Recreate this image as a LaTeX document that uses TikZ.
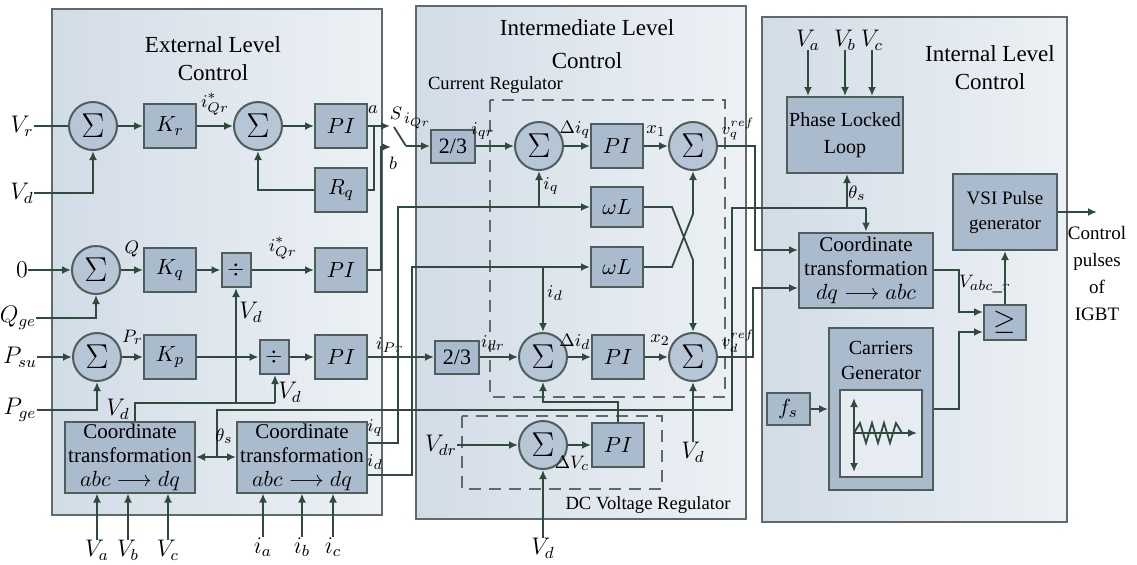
\documentclass[tikz,border=0pt]{standalone}
\usepackage{fontspec}
\setmainfont{Liberation Serif}
\usepackage{tikz}
\usetikzlibrary{arrows.meta}

\definecolor{lvlleft}{HTML}{D2DCE7}
\definecolor{lvlright}{HTML}{EDF1F5}
\definecolor{lvlline}{HTML}{5E6B68}
\definecolor{blkfill}{HTML}{A9BBCD}
\definecolor{sumfill}{HTML}{B6C6D6}
\definecolor{blkline}{HTML}{4E5E5A}
\definecolor{wire}{HTML}{2F4B3E}

\begin{document}
\begin{tikzpicture}[
  x=0.5pt, y=-0.5pt,
  >={Latex[length=4.5pt,width=4pt]},
  every node/.style={font=\fontsize{10}{12}\selectfont},
  lvl/.style={draw=lvlline, line width=1.1pt, left color=lvlleft, right color=lvlright},
  lvltitle/.style={align=center, font=\fontsize{11.5}{14}\selectfont},
  regtitle/.style={font=\fontsize{9.3}{11}\selectfont},
  blk/.style={draw=blkline, line width=1pt, fill=blkfill, minimum width=26pt, minimum height=22pt, inner sep=1pt, font=\fontsize{11}{12}\selectfont},
  sumc/.style={circle, draw=blkline, line width=1pt, fill=sumfill, minimum size=24pt, inner sep=0pt, font=\fontsize{16}{16}\selectfont},
  divbox/.style={blk, minimum width=14.5pt, minimum height=17pt},
  ttbox/.style={blk, minimum width=22pt, minimum height=16.5pt},
  ctbox/.style={blk, minimum width=65pt, minimum height=35.5pt, inner sep=0.5pt, align=center, font=\fontsize{10.5}{12}\selectfont},
  lbl/.style={inner sep=0pt, font=\fontsize{12}{13}\selectfont},
  sml/.style={inner sep=0pt, font=\fontsize{9.5}{11}\selectfont},
  tiny/.style={inner sep=0pt, font=\fontsize{8}{9}\selectfont},
  sig/.style={draw=wire, line width=0.9pt},
  sigar/.style={sig, ->},
  dashbox/.style={draw=lvlline, line width=1.1pt, dash pattern=on 6pt off 4pt}
]
\fill[white] (0,0) rectangle (1137,564);
\useasboundingbox (0,0) rectangle (1137,564);

% level frames
\draw[lvl] (52,9) rectangle (382,515);
\draw[lvl] (416,6) rectangle (746,519);
\draw[lvl] (762,17) rectangle (1067,522);
\draw[dashbox] (490,100) rectangle (725,397);
\draw[dashbox] (462,416) rectangle (662,489);

\node[lvltitle] (extT) at (213,59) {External Level\\Control};
\node[lvltitle, font=\fontsize{11.5}{16.5}\selectfont] (midT) at (587,44) {Intermediate Level\\Control};
\node[lvltitle] (intT) at (990,68) {Internal Level\\Control};
\node[regtitle, anchor=west] (curT) at (421,85) {Current Regulator};
\node[regtitle] (dcT) at (648,505) {DC Voltage Regulator};

% external level
\node[lbl] (Vr) at (22,126) {$V_r$};
\node[lbl] (Vd1) at (22,193) {$V_d$};
\node[sumc] (sumV) at (93,126) {$\Sigma$};
\node[blk] (Kr) at (170,126) {$K_r$};
\node[sumc] (sumI) at (258,126) {$\Sigma$};
\node[blk] (PIa) at (341,126) {$PI$};
\node[blk] (Rq) at (341,190) {$R_q$};

\node[lbl] (zero) at (22,270) {$0$};
\node[lbl] (Qge) at (18,318) {$Q_{ge}$};
\node[sumc] (sumQ) at (96,270) {$\Sigma$};
\node[blk] (Kq) at (170,270) {$K_q$};
\node[divbox] (divQ) at (236,270) {$\div$};
\node[blk] (PIb) at (341,270) {$PI$};

\node[lbl] (Psu) at (20,357) {$P_{su}$};
\node[lbl] (Pge) at (20,410) {$P_{ge}$};
\node[sumc] (sumP) at (97,357) {$\Sigma$};
\node[blk] (Kp) at (170,357) {$K_p$};
\node[divbox] (divP) at (274,357) {$\div$};
\node[blk] (PIc) at (341,357) {$PI$};

\node[ctbox] (ctA) at (130,457) {Coordinate\\transformation\\$abc\longrightarrow dq$};
\node[ctbox] (ctB) at (302,457) {Coordinate\\transformation\\$abc\longrightarrow dq$};
\node[lbl] (Va) at (97,550) {$V_a$};
\node[lbl] (Vb) at (128,550) {$V_b$};
\node[lbl] (Vc) at (168,550) {$V_c$};
\node[lbl] (ia) at (263,547) {$i_a$};
\node[lbl] (ib) at (302,547) {$i_b$};
\node[lbl] (ic) at (333,547) {$i_c$};

\draw[sig] (Vr) -- (sumV);
\draw[sigar] (Vd1) -| (sumV);
\draw[sigar] (sumV) -- (Kr);
\draw[sigar] (Kr) -- node[sml, above=5pt] {$i^*_{Qr}$} (sumI);
\draw[sigar] (sumI) -- (PIa);
\coordinate (aOut) at (390,126);
\draw[sigar] (PIa) -- (aOut);
\node[sml] (aLbl) at (373,110) {$a$};
\coordinate (fbA) at (374,126);
\draw[sig] (fbA) |- (Rq);
\draw[sigar] (Rq) -| (sumI);

\draw[sigar] (zero) -- (sumQ);
\draw[sigar] (Qge) -| (sumQ);
\draw[sigar] (sumQ) -- node[sml, above=6pt] {$Q$} (Kq);
\draw[sigar] (Kq) -- (divQ);
\draw[sigar] (divQ) -- node[sml, above=5pt] {$i^*_{Qr}$} (PIb);
\coordinate (bOut) at (391,147);
\draw[sigar] (PIb.east) -- ++(13,0) |- (bOut);
\node[sml] (bLbl) at (393,163) {$b$};

\draw[sigar] (Psu) -- (sumP);
\draw[sigar] (Pge) -| (sumP);
\draw[sigar] (sumP) -- node[sml, above=6pt] {$P_r$} (Kp);
\draw[sigar] (Kp) -- (divP);
\draw[sigar] (divP) -- (PIc);

\foreach \n in {Va,Vb,Vc} \draw[sigar] (\n.north) -- (\n.north |- ctA.south);
\foreach \n in {ia,ib,ic} \draw[sigar] (\n.north) -- (\n.north |- ctB.south);

% V_d to the dividers
\coordinate (vdA) at (135,403);
\coordinate (vdB) at (275,403);
\draw[sig] (ctA.north -| vdA) -- (vdA) -- (vdB);
\draw[sigar] (vdB) -- (vdB |- divP.south);
\draw[sigar] (divQ.south |- vdA) -- (divQ.south);
\node[lbl] (VdA) at (118,409) {$V_d$};
\node[lbl] (VdQ) at (251,312) {$V_d$};
\node[lbl] (VdP) at (290,392) {$V_d$};

% theta_s
\draw[sig, <->] (ctA) -- (ctB);
\coordinate (thJ) at (217,457);
\coordinate (thK) at (732,410);
\coordinate (thL) at (866,208);
\coordinate (thP) at (847,208);
\draw[sig] (thJ) |- (thK) |- (thL);
\node[sml] (thS1) at (224,436) {$\theta_s$};

% switch S
\coordinate (swA) at (394,127);
\coordinate (swB) at (406,146);
\draw[sig] (swA) -- (swB);
\node[sml] (sLbl) at (396,113) {$S$};
\node[tiny] (iQr) at (417,121) {$i_{Qr}$};

% intermediate level
\node[ttbox] (tt1) at (453,146) {2/3};
\node[sumc] (sI1) at (539,146) {$\Sigma$};
\node[blk] (PId) at (617,146) {$PI$};
\node[sumc] (sI2) at (693,146) {$\Sigma$};
\node[blk, minimum height=20pt] (wL1) at (617,207) {$\omega L$};
\node[blk, minimum height=20pt] (wL2) at (617,267) {$\omega L$};
\node[ttbox] (tt2) at (457,357) {2/3};
\node[sumc] (sI3) at (543,357) {$\Sigma$};
\node[blk] (PIe) at (618,357) {$PI$};
\node[sumc] (sI4) at (693,357) {$\Sigma$};
\node[sumc] (sDC) at (543,445) {$\Sigma$};
\node[blk] (PIf) at (618,445) {$PI$};
\node[lbl] (Vdr) at (441,445) {$V_{dr}$};
\node[lbl] (VdDC) at (543,548) {$V_d$};
\node[lbl] (Vd4) at (693,452) {$V_d$};

\draw[sigar] (swB) -- (tt1);
\draw[sigar] (PIc) -- (tt2);
\node[sml] (iPr) at (390,345) {$i_{Pr}$};
\draw[sigar] (tt1) -- (sI1);
\draw[sigar] (sI1) -- (PId);
\draw[sigar] (PId) -- (sI2);
\draw[sigar] (tt2) -- (sI3);
\draw[sigar] (sI3) -- (PIe);
\draw[sigar] (PIe) -- (sI4);
\node[sml] (iqrL) at (483,131) {$i_{qr}$};
\node[sml] (diq) at (575,130) {$\Delta i_q$};
\node[sml] (x1) at (656,131) {$x_1$};
\node[sml] (idrL) at (493,343) {$i_{dr}$};
\node[sml] (did) at (575,342) {$\Delta i_d$};
\node[sml] (x2) at (660,340) {$x_2$};
\node[tiny] (vqr) at (738,129) {$v_q^{ref}$};
\node[tiny] (vdr) at (738,341) {$v_d^{ref}$};

% i_q and i_d from the current transformation
\coordinate (iqA) at (398,443);
\coordinate (idA) at (412,475);
\draw[sigar] (ctB.east |- iqA) -- (iqA) |- (wL1);
\draw[sigar] (ctB.east |- idA) -- (idA) |- (wL2);
\draw[sigar] (sI1.south |- wL1) -- (sI1.south);
\draw[sigar] (sI3.north |- wL2) -- (sI3.north);
\node[sml] (iqB) at (375,428) {$i_q$};
\node[sml] (idB) at (375,462) {$i_d$};
\node[sml] (iqC) at (551,186) {$i_q$};
\node[sml] (idC) at (555,293) {$i_d$};

% crossed omega L paths
\coordinate (xA) at (672,207);
\coordinate (xB) at (693,260);
\coordinate (xC) at (672,267);
\coordinate (xD) at (693,214);
\draw[sigar] (wL1) -- (xA) -- (xB) -- (sI4);
\draw[sigar] (wL2) -- (xC) -- (xD) -- (sI2);
\draw[sigar] (Vd4) -- (sI4);

% DC voltage regulator
\draw[sigar] (Vdr) -- (sDC);
\draw[sigar] (sDC) -- (PIf);
\draw[sigar] (VdDC) -- (sDC);
\coordinate (dcA) at (618,402);
\draw[sigar] (PIf.north) -- (dcA) -| (sI3.south);
\node[sml] (dVc) at (572,463) {$\Delta V_c$};

% internal level
\node[lbl] (Va2) at (808,40) {$V_a$};
\node[lbl] (Vb2) at (845,40) {$V_b$};
\node[lbl] (Vc2) at (872,40) {$V_c$};
\node[blk, minimum width=58pt, minimum height=38pt, align=center, font=\fontsize{10}{13.5}\selectfont] (pll) at (845,135) {Phase Locked\\Loop};
\node[ctbox, minimum width=67pt, minimum height=37.5pt] (ctC) at (866,270) {Coordinate\\transformation\\$dq\longrightarrow abc$};
\node[blk, minimum width=52pt, minimum height=38pt, align=center, font=\fontsize{9.5}{12.5}\selectfont] (vsi) at (1005,212) {VSI Pulse\\generator};
\node[blk, minimum width=21pt, minimum height=17.5pt, font=\fontsize{14}{14}\selectfont] (ge) at (1005,322) {$\geq$};
\node[blk, minimum width=52pt, minimum height=81pt] (carr) at (881,409) {};
\node[align=center, font=\fontsize{10}{12.5}\selectfont] (carrT) at (881,360) {Carriers\\Generator};
\node[draw=blkline, line width=1pt, fill=lvlright!90!blkfill, minimum width=41pt, minimum height=43.5pt] (carrIn) at (881,433) {};
\node[blk, minimum width=21.5pt, minimum height=16pt] (fs) at (788,409) {$f_s$};
\node[align=center, font=\fontsize{9.5}{13.5}\selectfont] (ctrlT) at (1097,273) {Control\\pulses\\of\\IGBT};

\foreach \n in {Va2,Vb2,Vc2} \draw[sigar] (\n.south) -- (\n.south |- pll.north);
\draw[sigar] (thL) -- (ctC);
\draw[sigar] (thP) -- (thP |- pll.south);
\node[sml] (thS2) at (857,193) {$\theta_s$};

\coordinate (vqA) at (755,146);
\coordinate (vdrA) at (753,357);
\draw[sigar] (sI2) -- (vqA) |- ([yshift=10pt]ctC.west);
\draw[sigar] (sI4) -- (vdrA) |- ([yshift=-9pt]ctC.west);

\coordinate (geA) at (959,270);
\coordinate (geB) at (959,409);
\draw[sigar] (ctC) -- (geA) |- ([yshift=5pt]ge.west);
\draw[sigar] (carr) -- (geB) |- ([yshift=-5pt]ge.west);
\node[sml] (Vabc) at (985,284) {$V_{abc\_r}$};
\draw[sigar] (ge) -- (vsi);
\coordinate (outP) at (1097,212);
\draw[sigar] (vsi) -- (outP);
\draw[sigar] (fs) -- (carr);

% carrier wave inside the generator
\draw[sig, <->] (854,398) -- (854,472);
\draw[sigar] (854,433) -- (917,433);
\draw[sig] (854,433) -- (860,423) -- (866,443) -- (872,423) -- (878,443) -- (884,423) -- (890,443) -- (896,423) -- (902,433);
\end{tikzpicture}
\end{document}
